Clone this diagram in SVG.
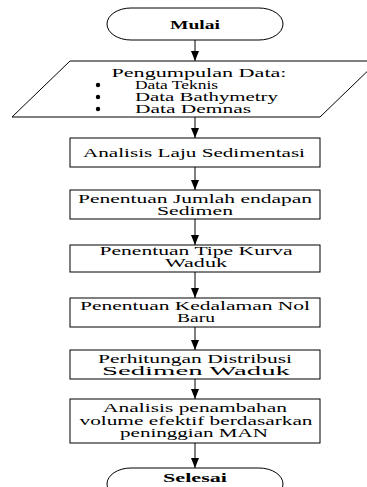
<svg xmlns="http://www.w3.org/2000/svg" width="367" height="487" viewBox="0 0 367 487">
<style>
.s{fill:#fff;stroke:#000;stroke-width:1}
.t{font-family:"Liberation Serif","Times New Roman",serif;font-size:11.5px;fill:#000;text-anchor:middle}
.b{font-weight:bold;font-size:12px}
.l{text-anchor:start}
.c{stroke:#000;stroke-width:1;fill:none}
</style>
<defs>
<marker id="ah" viewBox="0 0 10 8" refX="10" refY="4" markerWidth="10" markerHeight="8" markerUnits="userSpaceOnUse" orient="auto">
<path d="M0,0 L10,4 L0,8 Z" fill="#000"/>
</marker>
</defs>
<rect width="367" height="487" fill="#fff"/>
<g id="connectors">
<line class="c" x1="195" y1="40" x2="195" y2="61" marker-end="url(#ah)"/>
<line class="c" x1="195" y1="117" x2="195" y2="138" marker-end="url(#ah)"/>
<line class="c" x1="195" y1="167" x2="195" y2="190" marker-end="url(#ah)"/>
<line class="c" x1="195" y1="219" x2="195" y2="245" marker-end="url(#ah)"/>
<line class="c" x1="195" y1="272" x2="195" y2="298" marker-end="url(#ah)"/>
<line class="c" x1="195" y1="327" x2="195" y2="350" marker-end="url(#ah)"/>
<line class="c" x1="195" y1="379" x2="195" y2="399" marker-end="url(#ah)"/>
<line class="c" x1="195" y1="443" x2="195" y2="468" marker-end="url(#ah)"/>
</g>
<g id="mulai">
<rect class="s" x="107" y="8" width="176" height="32" rx="24" ry="16"/>
<text class="t b" x="195" y="29" textLength="50" lengthAdjust="spacingAndGlyphs">Mulai</text>
</g>
<g id="pengumpulan">
<polygon class="s" points="12,117 70,61 378,61 320,117"/>
<text class="t" x="199" y="77" textLength="175" lengthAdjust="spacingAndGlyphs">Pengumpulan Data:</text>
<circle cx="98" cy="85" r="2.2" fill="#000"/>
<circle cx="98" cy="97" r="2.2" fill="#000"/>
<circle cx="98" cy="109" r="2.2" fill="#000"/>
<text class="t l" x="135" y="89" textLength="83" lengthAdjust="spacingAndGlyphs">Data Teknis</text>
<text class="t l" x="135" y="101" textLength="143" lengthAdjust="spacingAndGlyphs">Data Bathymetry</text>
<text class="t l" x="135" y="113" textLength="116" lengthAdjust="spacingAndGlyphs">Data Demnas</text>
</g>
<g id="laju">
<rect class="s" x="70" y="138" width="250" height="29"/>
<text class="t" x="194" y="157" textLength="222" lengthAdjust="spacingAndGlyphs">Analisis Laju Sedimentasi</text>
</g>
<g id="jumlah">
<rect class="s" x="70" y="190" width="250" height="29"/>
<text class="t" x="195" y="203" textLength="234" lengthAdjust="spacingAndGlyphs">Penentuan Jumlah endapan</text>
<text class="t" x="195" y="215" textLength="76" lengthAdjust="spacingAndGlyphs">Sedimen</text>
</g>
<g id="kurva">
<rect class="s" x="70" y="245" width="250" height="27"/>
<text class="t" x="196" y="255" textLength="193" lengthAdjust="spacingAndGlyphs">Penentuan Tipe Kurva</text>
<text class="t" x="196" y="267" textLength="62" lengthAdjust="spacingAndGlyphs">Waduk</text>
</g>
<g id="kedalaman">
<rect class="s" x="70" y="298" width="250" height="29"/>
<text class="t" x="195" y="310" textLength="230" lengthAdjust="spacingAndGlyphs">Penentuan Kedalaman Nol</text>
<text class="t" x="196" y="322" textLength="38" lengthAdjust="spacingAndGlyphs">Baru</text>
</g>
<g id="distribusi">
<rect class="s" x="70" y="350" width="250" height="29"/>
<text class="t" x="195" y="363" textLength="194" lengthAdjust="spacingAndGlyphs">Perhitungan Distribusi</text>
<text class="t" x="196" y="375" textLength="188" lengthAdjust="spacingAndGlyphs">Sedimen Waduk</text>
</g>
<g id="volume">
<rect class="s" x="70" y="399" width="250" height="44"/>
<text class="t" x="195" y="412" textLength="184" lengthAdjust="spacingAndGlyphs">Analisis penambahan</text>
<text class="t" x="196" y="425" textLength="233" lengthAdjust="spacingAndGlyphs">volume efektif berdasarkan</text>
<text class="t" x="194" y="437" textLength="148" lengthAdjust="spacingAndGlyphs">peninggian MAN</text>
</g>
<g id="selesai">
<rect class="s" x="107" y="468" width="176" height="32" rx="24" ry="16"/>
<text class="t b" x="195" y="482" textLength="64" lengthAdjust="spacingAndGlyphs">Selesai</text>
</g>
</svg>
